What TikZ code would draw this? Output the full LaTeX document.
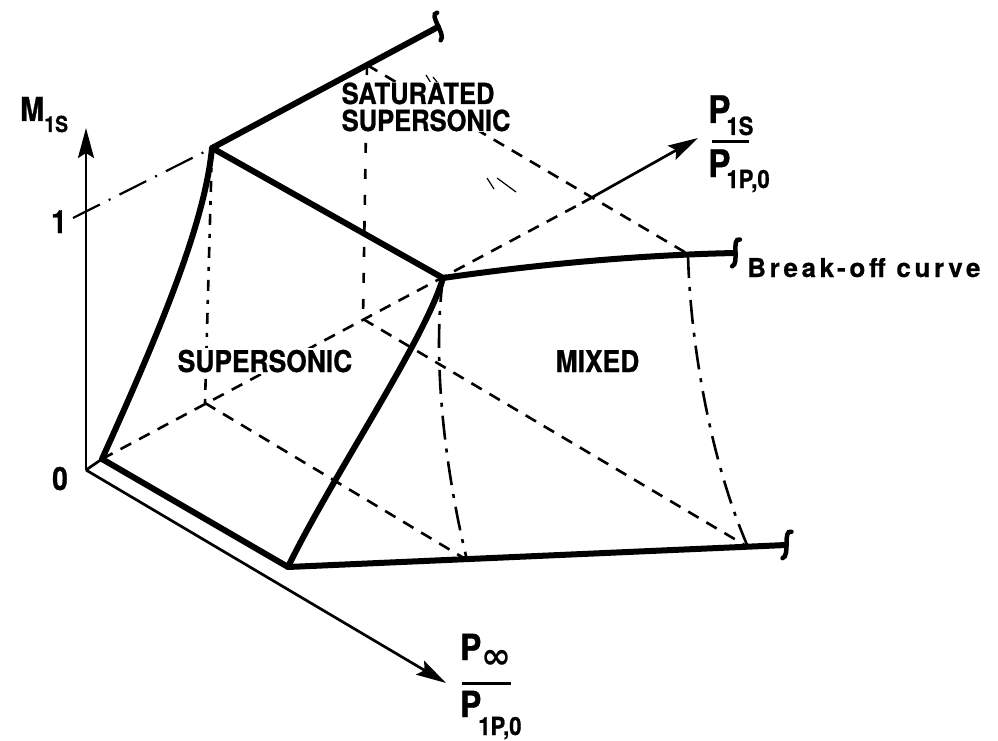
\documentclass[tikz,border=0pt]{standalone}
\usepackage{fontspec}
\setmainfont{TeX Gyre Heros}
\newfontfamily\lblfont{TeX Gyre Heros}[FakeStretch=0.88,FakeBold=0.8]
\newfontfamily\brkfont{TeX Gyre Heros}[LetterSpace=14,FakeBold=0.6]
\newfontfamily\symfont{DejaVu Sans}
\usetikzlibrary{arrows.meta}
\newcommand\fsz[1]{\fontsize{#1}{#1}\selectfont}
\begin{document}
\begin{tikzpicture}[x=1pt,y=-1pt,
  thickline/.style={line width=6pt,line cap=round,line join=round},
  axisline/.style={line width=2.7pt},
  dashline/.style={line width=2.6pt,dash pattern=on 12pt off 9pt},
  dashdotline/.style={line width=2.6pt,dash pattern=on 24pt off 9pt on 4pt off 9pt},
  vdashline/.style={line width=2.6pt,dash pattern=on 11pt off 9pt on 4pt off 9pt},
  dotline/.style={line width=2.6pt,dash pattern=on 10pt off 16pt},
  onedash/.style={line width=2.2pt,dash pattern=on 30pt off 10pt on 2pt off 10pt},
  hatch/.style={line width=1.2pt},
  barline/.style={line width=3pt},
  squigline/.style={line width=4.5pt,line cap=round},
  lbl/.style={inner sep=0pt,anchor=base west,font=\lblfont\bfseries},
  region/.style={inner sep=1.5pt,fill=white,anchor=base west,font=\lblfont\bfseries\fsz{30}},
  arr/.style={-{Stealth[length=30pt,width=16pt,inset=5pt]}},
  brk/.pic={\draw[squigline] (6,-13) .. controls (-3,-16) and (4,11) .. (-4,13);}
]
\useasboundingbox (0,0) rectangle (998,741);
% key points
\coordinate (O) at (86,470);
\coordinate (O2) at (102,459);
\coordinate (A) at (212,148);
\coordinate (T) at (438,27);
\coordinate (Tp) at (367,65);
\coordinate (B) at (443,278);
\coordinate (K) at (735,253);
\coordinate (D) at (688,254);
\coordinate (C) at (288,567);
\coordinate (R) at (786,545);
\coordinate (F) at (467,560);
\coordinate (E) at (748,547);
\coordinate (G) at (205,403);
\coordinate (H) at (363,319);
\coordinate (Mtip) at (86,128);
\coordinate (Ptip) at (446,683);
\coordinate (Stip) at (698,138);
\coordinate (Sstart) at (582,203);
\coordinate (One) at (73,218);
% axes
\draw[axisline,arr] (O) -- (Mtip);
\draw[axisline,arr] (O) -- (Ptip);
\draw[axisline] (O) -- (O2);
\draw[dashline] (O2) -- (Sstart);
\draw[axisline,arr] (Sstart) -- (Stip);
% construction lines
\draw[onedash] (One) -- (A);
\draw[vdashline] (A) -- (G);
\draw[dotline] (Tp) -- (H);
\draw[dashline] (G) -- (F);
\draw[dashline] (H) -- (E);
\draw[dashline] (Tp) -- (D);
\draw[dashdotline] (B) .. controls (432,360) and (445,470) .. (F);
\draw[dashdotline] (D) .. controls (690,340) and (710,460) .. (E);
% faint hatch marks
\coordinate (h1a) at (426,75); \coordinate (h1b) at (434,88);
\coordinate (h2a) at (433,77); \coordinate (h2b) at (446,93);
\coordinate (h3a) at (487,178); \coordinate (h3b) at (494,189);
\coordinate (h4a) at (497,178); \coordinate (h4b) at (516,192);
\draw[hatch] (h1a) -- (h1b);
\draw[hatch] (h2a) -- (h2b);
\draw[hatch] (h3a) -- (h3b);
\draw[hatch] (h4a) -- (h4b);
% thick surface edges
\draw[thickline] (T) -- (A) -- (B);
\draw[thickline] (A) .. controls (205,220) and (165,320) .. (O2) -- (C)
   .. controls (330,480) and (425,340) .. (B)
   .. controls (540,264) and (640,255) .. (K);
\draw[thickline] (C) -- (R);
\pic[rotate=28.2] at (T) {brk};
\pic[rotate=4.9] at (K) {brk};
\pic[rotate=2.5] at (R) {brk};
% region labels
\node[region,align=left,inner sep=0.5pt,font=\lblfont\bfseries\fontsize{29}{27}\selectfont] (sat) at (341,131) {SATURATED\\SUPERSONIC};
\node[region] (sup) at (176,372) {SUPERSONIC};
\node[region] (mix) at (554,372) {MIXED};
\node[lbl,font=\brkfont\bfseries\fsz{26}] (brkoff) at (747,277) {Break-off curve};
% axis labels
\node[lbl,font=\lblfont\bfseries\fsz{33}] (mlab) at (20,121) {M\raisebox{-11pt}{\fsz{22}1S}};
\node[lbl,font=\lblfont\bfseries\fsz{32}] (onelab) at (51,233) {1};
\node[lbl,font=\lblfont\bfseries\fsz{32}] (zerolab) at (52,490) {0};
% P1S / P1P,0
\node[lbl,font=\lblfont\bfseries\fsz{38}] (psn) at (708,123) {P\kern-4pt\raisebox{-12pt}{\fsz{25}1S}};
\coordinate (b1a) at (712,141); \coordinate (b1b) at (749,141);
\draw[barline] (b1a) -- (b1b);
\node[lbl,font=\lblfont\bfseries\fsz{38}] (psd) at (708,177) {P\kern-4pt\raisebox{-11pt}{\fsz{25}1P,0}};
% Pinf / P1P,0
\node[lbl,font=\lblfont\bfseries\fsz{36}] (pin) at (460,660) {P\raisebox{-8pt}{\symfont\bfseries\fsz{36}∞}};
\coordinate (b2a) at (462,683); \coordinate (b2b) at (511,683);
\draw[barline] (b2a) -- (b2b);
\node[lbl,font=\lblfont\bfseries\fsz{36}] (pid) at (460,717) {P\kern-3pt\raisebox{-18pt}{\fsz{25}1P,0}};
\end{tikzpicture}
\end{document}
